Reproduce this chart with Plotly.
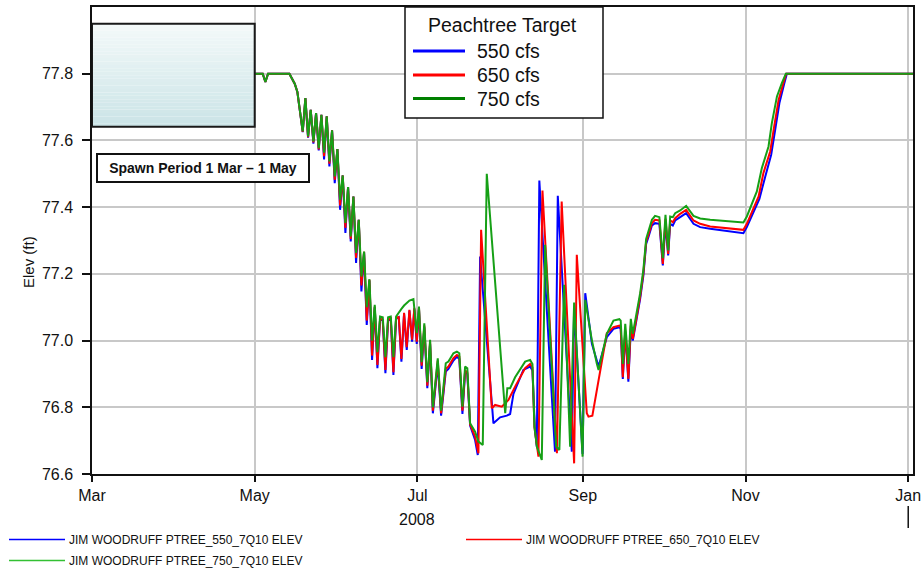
import plotly.graph_objects as go

# ---------------------------------------------------------------------------
# Jim Woodruff pool elevation (ft), 2008, for three Peachtree flow targets.
# Each series is a list of (date, elevation) readings.
# ---------------------------------------------------------------------------
elev_550 = [
    ("2008-03-01", 77.800), ("2008-05-04", 77.800), ("2008-05-05", 77.775), ("2008-05-06", 77.800),
    ("2008-05-14", 77.800), ("2008-05-16", 77.770), ("2008-05-17", 77.745),
    ("2008-05-19", 77.625), ("2008-05-20", 77.727), ("2008-05-21", 77.608), ("2008-05-22", 77.692),
    ("2008-05-23", 77.590), ("2008-05-24", 77.682), ("2008-05-25", 77.570), ("2008-05-26", 77.677),
    ("2008-05-27", 77.543), ("2008-05-28", 77.672), ("2008-05-29", 77.522), ("2008-05-30", 77.630),
    ("2008-05-31", 77.472),
    ("2008-06-01", 77.574), ("2008-06-02", 77.392), ("2008-06-03", 77.495), ("2008-06-04", 77.323),
    ("2008-06-05", 77.460), ("2008-06-06", 77.297), ("2008-06-07", 77.432), ("2008-06-08", 77.233),
    ("2008-06-09", 77.362), ("2008-06-10", 77.147), ("2008-06-11", 77.265), ("2008-06-12", 77.047),
    ("2008-06-13", 77.180), ("2008-06-14", 76.942), ("2008-06-15", 77.100), ("2008-06-16", 76.917),
    ("2008-06-17", 77.065), ("2008-06-18", 77.060), ("2008-06-19", 76.902), ("2008-06-20", 77.060),
    ("2008-06-21", 77.065), ("2008-06-22", 76.897), ("2008-06-23", 77.065), ("2008-06-24", 77.070),
    ("2008-06-25", 76.937), ("2008-06-26", 77.080), ("2008-06-27", 76.972), ("2008-06-28", 77.090),
    ("2008-06-29", 76.997), ("2008-06-29 20:00", 77.095), ("2008-06-30 18:00", 76.990),
    ("2008-07-01 14:00", 77.095), ("2008-07-02 14:00", 76.915), ("2008-07-03 14:00", 77.040),
    ("2008-07-04 17:00", 76.857), ("2008-07-05 18:00", 76.990), ("2008-07-06 19:00", 76.782),
    ("2008-07-08 15:00", 76.930), ("2008-07-09 21:00", 76.775), ("2008-07-11 15:00", 76.907),
    ("2008-07-12 15:00", 76.915), ("2008-07-14 12:00", 76.940), ("2008-07-15 19:00", 76.952),
    ("2008-07-16 17:00", 76.945), ("2008-07-17 21:00", 76.780), ("2008-07-18 21:00", 76.905),
    ("2008-07-19 17:00", 76.900), ("2008-07-20 18:00", 76.745), ("2008-07-22 15:00", 76.702),
    ("2008-07-23 15:00", 76.657), ("2008-07-24 12:00", 77.252), ("2008-07-29 12:00", 76.752),
    ("2008-08-01", 76.770), ("2008-08-03 12:00", 76.775), ("2008-08-04 18:00", 76.780),
    ("2008-08-06", 76.840), ("2008-08-09 17:00", 76.912), ("2008-08-12 06:00", 76.922),
    ("2008-08-13 03:00", 76.910), ("2008-08-14", 76.740), ("2008-08-14 18:00", 76.682),
    ("2008-08-15 17:00", 77.480), ("2008-08-21 14:00", 76.667), ("2008-08-22 15:00", 77.434),
    ("2008-08-27 21:00", 76.667), ("2008-08-28 18:00", 77.100), ("2008-08-31 22:00", 76.660),
    ("2008-09-01 22:00", 77.142), ("2008-09-04 10:00", 76.990), ("2008-09-06 22:00", 76.922),
    ("2008-09-10", 77.010), ("2008-09-12 12:00", 77.035), ("2008-09-14 17:00", 77.040),
    ("2008-09-15 05:00", 77.035), ("2008-09-16", 76.885), ("2008-09-16 22:00", 77.025),
    ("2008-09-18 02:00", 76.877), ("2008-09-19", 77.035), ("2008-09-19 18:00", 77.000),
    ("2008-09-21", 77.055), ("2008-09-22 12:00", 77.125), ("2008-09-23 17:00", 77.195),
    ("2008-09-24 18:00", 77.290), ("2008-09-25 14:00", 77.310), ("2008-09-26 22:00", 77.345),
    ("2008-09-28 02:00", 77.352), ("2008-09-29 17:00", 77.350),
    ("2008-10-01", 77.225), ("2008-10-02", 77.352), ("2008-10-03", 77.255), ("2008-10-03 18:00", 77.350),
    ("2008-10-04 18:00", 77.345), ("2008-10-05 15:00", 77.360), ("2008-10-07 12:00", 77.370),
    ("2008-10-09 18:00", 77.382), ("2008-10-12 12:00", 77.350), ("2008-10-15", 77.340),
    ("2008-10-18 18:00", 77.335), ("2008-10-25", 77.329), ("2008-10-31 05:00", 77.322),
    ("2008-11-01 12:00", 77.340), ("2008-11-06 05:00", 77.425), ("2008-11-08 10:00", 77.492),
    ("2008-11-10 15:00", 77.557), ("2008-11-12 03:00", 77.632), ("2008-11-13 17:00", 77.712),
    ("2008-11-15 12:00", 77.770), ("2008-11-16 12:00", 77.800), ("2009-01-03", 77.800),
]

elev_650 = [
    ("2008-03-01", 77.800), ("2008-05-04", 77.800), ("2008-05-05", 77.775), ("2008-05-06", 77.800),
    ("2008-05-14", 77.800), ("2008-05-16", 77.770), ("2008-05-17", 77.745),
    ("2008-05-19", 77.626), ("2008-05-20", 77.727), ("2008-05-21", 77.610), ("2008-05-22", 77.692),
    ("2008-05-23", 77.594), ("2008-05-24", 77.682), ("2008-05-25", 77.573), ("2008-05-26", 77.677),
    ("2008-05-27", 77.553), ("2008-05-28", 77.672), ("2008-05-29", 77.530), ("2008-05-30", 77.630),
    ("2008-05-31", 77.482),
    ("2008-06-01", 77.574), ("2008-06-02", 77.405), ("2008-06-03", 77.495), ("2008-06-04", 77.338),
    ("2008-06-05", 77.460), ("2008-06-06", 77.305), ("2008-06-07", 77.432), ("2008-06-08", 77.248),
    ("2008-06-09", 77.362), ("2008-06-10", 77.165), ("2008-06-11", 77.266), ("2008-06-12", 77.060),
    ("2008-06-13", 77.182), ("2008-06-14", 76.955), ("2008-06-15", 77.102), ("2008-06-16", 76.927),
    ("2008-06-17", 77.066), ("2008-06-18", 77.062), ("2008-06-19", 76.912), ("2008-06-20", 77.062),
    ("2008-06-21", 77.066), ("2008-06-22", 76.905), ("2008-06-23", 77.066), ("2008-06-24", 77.072),
    ("2008-06-25", 76.945), ("2008-06-26", 77.083), ("2008-06-27", 76.980), ("2008-06-28", 77.092),
    ("2008-06-29", 77.003), ("2008-06-29 20:00", 77.098), ("2008-06-30 18:00", 76.997),
    ("2008-07-01 14:00", 77.098), ("2008-07-02 14:00", 76.925), ("2008-07-03 14:00", 77.045),
    ("2008-07-04 17:00", 76.865), ("2008-07-05 18:00", 76.995), ("2008-07-06 19:00", 76.790),
    ("2008-07-08 15:00", 76.940), ("2008-07-09 21:00", 76.782), ("2008-07-11 15:00", 76.915),
    ("2008-07-12 15:00", 76.922), ("2008-07-14 12:00", 76.947), ("2008-07-15 19:00", 76.957),
    ("2008-07-16 17:00", 76.952), ("2008-07-17 21:00", 76.790), ("2008-07-18 21:00", 76.910),
    ("2008-07-19 17:00", 76.905), ("2008-07-20 18:00", 76.748), ("2008-07-22 15:00", 76.712),
    ("2008-07-23 21:00", 76.662), ("2008-07-24 21:00", 77.332), ("2008-07-28 21:00", 76.797),
    ("2008-07-30 03:00", 76.807),
    ("2008-08-01 15:00", 76.802), ("2008-08-04 03:00", 76.822), ("2008-08-06 15:00", 76.862),
    ("2008-08-10 09:00", 76.917), ("2008-08-12 06:00", 76.930), ("2008-08-13 03:00", 76.920),
    ("2008-08-13 21:00", 76.740), ("2008-08-15 09:00", 76.652), ("2008-08-16 21:00", 77.450),
    ("2008-08-22 07:00", 76.662), ("2008-08-24 02:00", 77.417), ("2008-08-28 18:00", 76.632),
    ("2008-08-29 18:00", 77.257),
    ("2008-09-02 12:00", 76.782), ("2008-09-03 03:00", 76.772), ("2008-09-04 14:00", 76.775),
    ("2008-09-09 10:00", 77.000), ("2008-09-10", 77.022), ("2008-09-12 12:00", 77.040),
    ("2008-09-14 17:00", 77.045), ("2008-09-15 05:00", 77.040), ("2008-09-16", 76.890),
    ("2008-09-16 22:00", 77.030), ("2008-09-18 02:00", 76.885), ("2008-09-19", 77.045),
    ("2008-09-19 18:00", 77.005), ("2008-09-21", 77.062), ("2008-09-22 12:00", 77.132),
    ("2008-09-23 17:00", 77.202), ("2008-09-24 18:00", 77.297), ("2008-09-25 14:00", 77.317),
    ("2008-09-26 22:00", 77.352), ("2008-09-28 02:00", 77.362), ("2008-09-29 17:00", 77.360),
    ("2008-10-01", 77.230), ("2008-10-02", 77.365), ("2008-10-03", 77.260), ("2008-10-03 18:00", 77.360),
    ("2008-10-04 18:00", 77.355), ("2008-10-05 15:00", 77.367), ("2008-10-07 12:00", 77.380),
    ("2008-10-09 18:00", 77.392), ("2008-10-12 12:00", 77.360), ("2008-10-15", 77.350),
    ("2008-10-18 18:00", 77.342), ("2008-10-25", 77.337), ("2008-10-31 05:00", 77.332),
    ("2008-11-01 12:00", 77.350), ("2008-11-05 22:00", 77.432), ("2008-11-07 17:00", 77.502),
    ("2008-11-10 06:00", 77.567), ("2008-11-11 18:00", 77.642), ("2008-11-13 10:00", 77.722),
    ("2008-11-15 05:00", 77.772), ("2008-11-16 06:00", 77.800), ("2009-01-03", 77.800),
]

elev_750 = [
    ("2008-03-01", 77.800), ("2008-05-04", 77.800), ("2008-05-05", 77.775), ("2008-05-06", 77.800),
    ("2008-05-14", 77.800), ("2008-05-16", 77.770), ("2008-05-17", 77.745),
    ("2008-05-19", 77.627), ("2008-05-20", 77.727), ("2008-05-21", 77.612), ("2008-05-22", 77.692),
    ("2008-05-23", 77.597), ("2008-05-24", 77.682), ("2008-05-25", 77.577), ("2008-05-26", 77.677),
    ("2008-05-27", 77.563), ("2008-05-28", 77.672), ("2008-05-29", 77.537), ("2008-05-30", 77.630),
    ("2008-05-31", 77.492),
    ("2008-06-01", 77.574), ("2008-06-02", 77.422), ("2008-06-03", 77.495), ("2008-06-04", 77.353),
    ("2008-06-05", 77.460), ("2008-06-06", 77.312), ("2008-06-07", 77.432), ("2008-06-08", 77.263),
    ("2008-06-09", 77.362), ("2008-06-10", 77.192), ("2008-06-11", 77.267), ("2008-06-12", 77.100),
    ("2008-06-13", 77.184), ("2008-06-14", 77.000), ("2008-06-15", 77.107), ("2008-06-16", 76.965),
    ("2008-06-17", 77.072), ("2008-06-18", 77.070), ("2008-06-19", 76.950), ("2008-06-20", 77.070),
    ("2008-06-21", 77.072), ("2008-06-22", 76.950), ("2008-06-23", 77.072), ("2008-06-24", 77.085),
    ("2008-06-25", 77.095), ("2008-06-26", 77.105), ("2008-06-27", 77.112), ("2008-06-28", 77.120),
    ("2008-06-29 12:00", 77.124), ("2008-06-30 18:00", 77.022),
    ("2008-07-01 14:00", 77.102), ("2008-07-02 14:00", 76.935), ("2008-07-03 14:00", 77.052),
    ("2008-07-04 17:00", 76.875), ("2008-07-05 18:00", 77.002), ("2008-07-06 19:00", 76.800),
    ("2008-07-08 15:00", 76.947), ("2008-07-09 21:00", 76.790), ("2008-07-11 15:00", 76.932),
    ("2008-07-12 15:00", 76.937), ("2008-07-14 12:00", 76.962), ("2008-07-15 19:00", 76.967),
    ("2008-07-16 17:00", 76.962), ("2008-07-17 21:00", 76.802), ("2008-07-18 21:00", 76.922),
    ("2008-07-19 17:00", 76.917), ("2008-07-20 18:00", 76.752), ("2008-07-22 15:00", 76.727),
    ("2008-07-23 21:00", 76.697), ("2008-07-25 12:00", 76.687), ("2008-07-27", 77.500),
    ("2008-08-02 22:00", 76.782), ("2008-08-03 17:00", 76.857), ("2008-08-04 18:00", 76.857),
    ("2008-08-06 15:00", 76.890), ("2008-08-10 09:00", 76.937), ("2008-08-12 06:00", 76.942),
    ("2008-08-13 03:00", 76.930), ("2008-08-13 21:00", 76.742), ("2008-08-14 19:00", 76.682),
    ("2008-08-16 15:00", 76.642), ("2008-08-17 21:00", 77.287), ("2008-08-22", 76.682),
    ("2008-08-23 05:00", 76.672), ("2008-08-25", 77.167), ("2008-08-27 06:00", 76.682),
    ("2008-08-28 18:00", 77.114), ("2008-08-31 22:00", 76.652),
    ("2008-09-01 22:00", 77.122), ("2008-09-04 10:00", 77.000), ("2008-09-06 07:00", 76.930),
    ("2008-09-06 22:00", 76.912), ("2008-09-10", 77.020), ("2008-09-12 12:00", 77.060),
    ("2008-09-14 17:00", 77.064), ("2008-09-15 05:00", 77.060), ("2008-09-16", 76.930),
    ("2008-09-16 22:00", 77.050), ("2008-09-18 02:00", 76.930), ("2008-09-19", 77.065),
    ("2008-09-19 18:00", 77.020), ("2008-09-21", 77.075), ("2008-09-22 12:00", 77.142),
    ("2008-09-23 17:00", 77.212), ("2008-09-24 18:00", 77.305), ("2008-09-25 14:00", 77.327),
    ("2008-09-26 22:00", 77.362), ("2008-09-28 02:00", 77.374), ("2008-09-29 17:00", 77.370),
    ("2008-10-01", 77.247), ("2008-10-02", 77.377), ("2008-10-03", 77.270), ("2008-10-03 18:00", 77.372),
    ("2008-10-04 18:00", 77.370), ("2008-10-05 15:00", 77.382), ("2008-10-07 12:00", 77.390),
    ("2008-10-09 18:00", 77.404), ("2008-10-12 12:00", 77.374), ("2008-10-15", 77.366),
    ("2008-10-18 18:00", 77.362), ("2008-10-25", 77.357), ("2008-10-31 05:00", 77.354),
    ("2008-11-01 12:00", 77.372), ("2008-11-05 06:00", 77.447), ("2008-11-07 03:00", 77.517),
    ("2008-11-09 15:00", 77.582), ("2008-11-10 21:00", 77.652), ("2008-11-12 19:00", 77.732),
    ("2008-11-14 15:00", 77.772), ("2008-11-16 03:00", 77.800), ("2009-01-03", 77.800),
]

series_labels = ["550 cfs", "650 cfs", "750 cfs"]
series_names = ["JIM WOODRUFF PTREE_550_7Q10 ELEV",
                "JIM WOODRUFF PTREE_650_7Q10 ELEV",
                "JIM WOODRUFF PTREE_750_7Q10 ELEV"]
month_ticks = ["2008-03-01", "2008-05-01", "2008-07-01", "2008-09-01", "2008-11-01", "2009-01-01"]
month_labels = ["Mar", "May", "Jul", "Sep", "Nov", "Jan"]
elev_ticks = [76.6, 76.8, 77.0, 77.2, 77.4, 77.6, 77.8]

# styling
line_colors = ["#0000ff", "#ff0000", "#16a016"]
key_colors = ["#0000ff", "#ff0000", "#008000"]
foot_colors = ["#0000ff", "#ff0000", "#33c033"]
FONT = "Liberation Sans, Arial, sans-serif"

# plot-area geometry in pixels (used to place the keys and boxes)
W, H = 921, 569
PL, PR, PT, PB = 92, 913, 7, 474


def px(x):
    return (x - PL) / (PR - PL)


def py(y):
    return (PB - y) / (PB - PT)


fig = go.Figure()
for pts, color, name in zip([elev_550, elev_650, elev_750], line_colors, series_names):
    fig.add_trace(go.Scatter(
        x=[d for d, _ in pts], y=[v for _, v in pts], mode="lines", name=name,
        line=dict(color=color, width=2), showlegend=False,
    ))

shapes = []
annotations = []

# shaded spawn-period panel (vertical gradient built from thin bands)
top_v, bot_v = 77.95, 77.641
c_top, c_bot = (243, 249, 249), (203, 228, 231)
n_bands = 30
for i in range(n_bands):
    t = i / (n_bands - 1)
    col = tuple(round(a + (b - a) * t) for a, b in zip(c_top, c_bot))
    y1 = top_v - (top_v - bot_v) * i / n_bands
    y0 = top_v - (top_v - bot_v) * (i + 1) / n_bands
    shapes.append(dict(type="rect", xref="x", yref="y", x0="2008-03-01", x1="2008-05-01",
                       y0=y0, y1=y1, layer="above", line=dict(width=0),
                       fillcolor="rgb(%d,%d,%d)" % col))
shapes.append(dict(type="rect", xref="x", yref="y", x0="2008-03-01", x1="2008-05-01",
                   y0=bot_v, y1=top_v, layer="above", line=dict(color="#1a1a1a", width=2),
                   fillcolor="rgba(0,0,0,0)"))

annotations.append(dict(
    text="<b>Spawn Period 1 Mar \u2013 1 May</b>", xref="paper", yref="paper",
    x=px(203), y=py(168), xanchor="center", yanchor="middle", showarrow=False,
    font=dict(family=FONT, size=14, color="#111"), bgcolor="white",
    bordercolor="#111", borderwidth=2, borderpad=0, width=210, height=26,
))

# key box: Peachtree Target
shapes.append(dict(type="rect", xref="paper", yref="paper", x0=px(405), x1=px(603),
                   y0=py(118), y1=py(7), layer="above", fillcolor="white",
                   line=dict(color="#111", width=1.5)))
annotations.append(dict(text="Peachtree Target", xref="paper", yref="paper",
                        x=px(502), y=py(25), xanchor="center", yanchor="middle",
                        showarrow=False, font=dict(family=FONT, size=19.5, color="#111")))
for lbl, col, yk in zip(series_labels, key_colors, [51, 75, 98.5]):
    shapes.append(dict(type="line", xref="paper", yref="paper", x0=px(413), x1=px(465),
                       y0=py(yk), y1=py(yk), layer="above", line=dict(color=col, width=3)))
    annotations.append(dict(text=lbl, xref="paper", yref="paper", x=px(475), y=py(yk),
                            xanchor="left", yanchor="middle", showarrow=False,
                            font=dict(family=FONT, size=19.5, color="#111")))

# footer key
for name, col, (xl, yk) in zip(series_names, foot_colors, [(9, 539.5), (466, 539.5), (9, 560.5)]):
    shapes.append(dict(type="line", xref="paper", yref="paper", x0=px(xl), x1=px(xl + 56),
                       y0=py(yk), y1=py(yk), line=dict(color=col, width=1.5)))
    annotations.append(dict(text=name, xref="paper", yref="paper", x=px(xl + 58), y=py(yk),
                            xanchor="left", yanchor="middle", showarrow=False,
                            font=dict(family=FONT, size=12, color="#111")))

# year label and year divider under the date axis
annotations.append(dict(text="2008", xref="x", yref="paper", x="2008-07-01", y=py(519),
                        xanchor="center", yanchor="middle", showarrow=False,
                        font=dict(family=FONT, size=16, color="#111")))
shapes.append(dict(type="line", xref="x", yref="paper", x0="2009-01-01", x1="2009-01-01",
                   y0=py(506), y1=py(528), line=dict(color="#111", width=1.5)))

# y-axis title
annotations.append(dict(text="Elev (ft)", xref="paper", yref="paper", x=px(28), y=py(262),
                        xanchor="center", yanchor="middle", textangle=-90, showarrow=False,
                        font=dict(family=FONT, size=15, color="#111")))

fig.update_layout(
    width=W, height=H,
    margin=dict(l=PL, r=W - PR, t=PT, b=H - PB, autoexpand=False),
    paper_bgcolor="white", plot_bgcolor="white",
    font=dict(family=FONT, color="#111"),
    shapes=shapes, annotations=annotations,
    showlegend=False,
)
fig.update_xaxes(
    type="date", range=["2008-03-01", "2009-01-02 19:00"], automargin=False,
    tickvals=month_ticks, ticktext=month_labels, ticklabeloverflow="allow",
    ticks="outside", ticklen=6, tickwidth=1.5, tickcolor="#111",
    showline=True, linecolor="#111", linewidth=1.5, mirror=True,
    showgrid=True, gridcolor="#c8c8c8", gridwidth=1.5, zeroline=False,
    tickfont=dict(family=FONT, size=16, color="#111"),
)
fig.update_yaxes(
    range=[76.6, 78.0], tickvals=elev_ticks, ticktext=["%.1f" % v for v in elev_ticks],
    automargin=False,
    ticks="outside", ticklen=8, tickwidth=1.5, tickcolor="#111", ticklabelstandoff=6,
    showline=True, linecolor="#111", linewidth=1.5, mirror=True,
    showgrid=True, gridcolor="#c8c8c8", gridwidth=1.5, zeroline=False,
    tickfont=dict(family=FONT, size=16, color="#111"),
)

fig.write_html("out.html")
